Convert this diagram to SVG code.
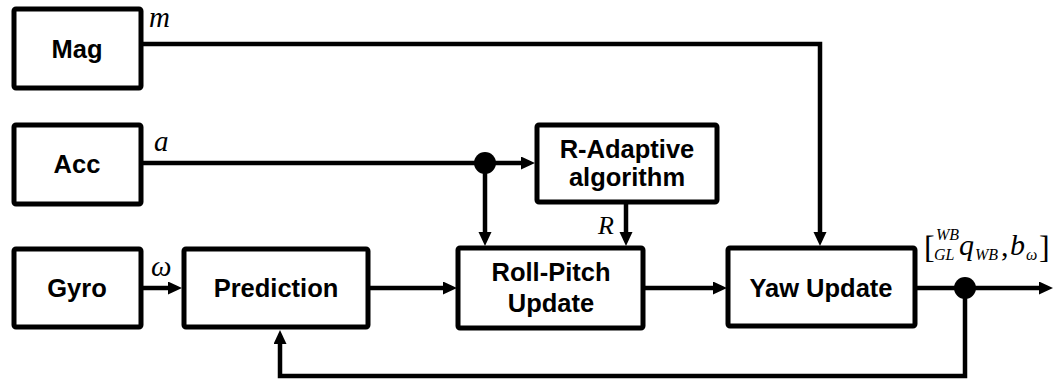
<svg xmlns="http://www.w3.org/2000/svg" width="1057" height="380" viewBox="0 0 1057 380">
<style>
.box{fill:#fff;stroke:#000;stroke-width:5;}
.lbl{font-family:"Liberation Sans",Arial,sans-serif;font-weight:bold;font-size:25.5px;text-anchor:middle;fill:#000;}
.math{font-family:"Liberation Serif","Times New Roman",serif;font-style:italic;fill:#000;}
.wire{fill:none;stroke:#000;stroke-width:4.5;}
</style>
<defs>
<marker id="ah" markerUnits="userSpaceOnUse" markerWidth="15" markerHeight="14" refX="3" refY="6.5" orient="auto">
<path d="M0,0 L14,6.5 L0,13 z" fill="#000"/>
</marker>
</defs>
<rect width="1057" height="380" fill="#fff"/>
<g id="connectors">
<path class="wire" d="M142,44 H820 V235" marker-end="url(#ah)"/>
<path class="wire" d="M142,163 H524" marker-end="url(#ah)"/>
<path class="wire" d="M485,163 V235" marker-end="url(#ah)"/>
<path class="wire" d="M626,202 V235" marker-end="url(#ah)"/>
<path class="wire" d="M142,288 H171" marker-end="url(#ah)"/>
<path class="wire" d="M369,288 H446" marker-end="url(#ah)"/>
<path class="wire" d="M644,288 H716" marker-end="url(#ah)"/>
<path class="wire" d="M916,288 H1042" marker-end="url(#ah)"/>
<path class="wire" d="M965,288 V376 H280 V341" marker-end="url(#ah)"/>
<circle cx="485" cy="163" r="11" fill="#000"/>
<circle cx="965" cy="288" r="11" fill="#000"/>
<text class="math" x="149" y="27" font-size="29">m</text>
<text class="math" x="154" y="151" font-size="29">a</text>
<text class="math" x="151" y="276" font-size="29">ω</text>
<text class="math" x="598" y="234" font-size="26">R</text>
<g id="output-label">
<text x="924" y="258" font-family="Liberation Serif,'Times New Roman',serif" font-size="32">[</text>
<text class="math" x="936" y="240" font-size="16">WB</text>
<text class="math" x="934" y="260" font-size="16">GL</text>
<text class="math" x="959" y="255" font-size="30">q</text>
<text class="math" x="975" y="260" font-size="16">WB</text>
<text x="1001" y="256" font-family="Liberation Serif,'Times New Roman',serif" font-size="30">,</text>
<text class="math" x="1010" y="255" font-size="30">b</text>
<text class="math" x="1026" y="260" font-size="16">ω</text>
<text x="1039" y="258" font-family="Liberation Serif,'Times New Roman',serif" font-size="32">]</text>
</g>
</g>
<g id="mag"><rect class="box" x="14" y="9" width="127" height="79" rx="2"/><text class="lbl" x="77" y="58">Mag</text></g>
<g id="acc"><rect class="box" x="14" y="125" width="127" height="79" rx="2"/><text class="lbl" x="77" y="173">Acc</text></g>
<g id="gyro"><rect class="box" x="14" y="249" width="127" height="78" rx="2"/><text class="lbl" x="77" y="297">Gyro</text></g>
<g id="prediction"><rect class="box" x="184" y="249" width="184" height="78" rx="2"/><text class="lbl" x="276" y="297">Prediction</text></g>
<g id="r-adaptive"><rect class="box" x="537" y="125" width="180" height="77" rx="2"/><text class="lbl" x="627" y="158">R-Adaptive</text><text class="lbl" x="627" y="186">algorithm</text></g>
<g id="roll-pitch"><rect class="box" x="458" y="248" width="185" height="80" rx="2"/><text class="lbl" x="551" y="281">Roll-Pitch</text><text class="lbl" x="551" y="312">Update</text></g>
<g id="yaw-update"><rect class="box" x="728" y="248" width="187" height="78" rx="2"/><text class="lbl" x="821" y="297">Yaw Update</text></g>
</svg>
